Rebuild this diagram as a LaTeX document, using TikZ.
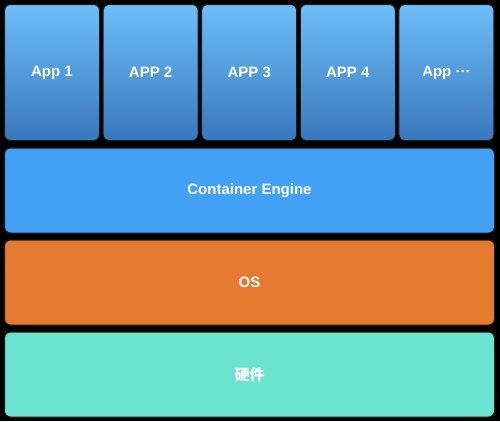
\documentclass[tikz,border=0pt]{standalone}
\usepackage{fontspec}
\setmainfont{Liberation Sans}
\newfontfamily\cjkfont{Noto Sans CJK SC}
\definecolor{apptop}{HTML}{6EBEF8}
\definecolor{appbot}{HTML}{3878BC}
\definecolor{engine}{HTML}{42A0F5}
\definecolor{osc}{HTML}{E57A30}
\definecolor{hw}{HTML}{6BE4CF}
\definecolor{edge}{HTML}{1E1E1E}
\tikzset{
  layer/.style={draw=edge, line width=1pt, rounded corners=6pt, anchor=north west,
    minimum width=490pt, minimum height=85pt, inner sep=0pt,
    text=white, font=\fontsize{15pt}{18pt}\selectfont\bfseries},
  appbox/.style={draw=edge, line width=1pt, rounded corners=6pt, anchor=north west,
    minimum width=95pt, minimum height=136pt, inner sep=0pt,
    top color=apptop, bottom color=appbot,
    text=white, font=\fontsize{15pt}{18pt}\selectfont\bfseries},
}
\begin{document}
\begin{tikzpicture}[x=1pt,y=-1pt]
\fill[black] (0,0) rectangle (500,421);
\useasboundingbox (0,0) rectangle (500,421);
\node[appbox] (a1) at (4,4) {App 1};
\node[appbox] (a2) at (102.6,4) {APP 2};
\node[appbox] (a3) at (201.2,4) {APP 3};
\node[appbox] (a4) at (299.8,4) {APP 4};
\node[appbox] (a5) at (398.4,4) {App ···};
\node[layer, fill=engine] (eng) at (4,147.5) {Container Engine};
\node[layer, fill=osc] (os) at (4,239.5) {OS};
\node[layer, fill=hw] (hwn) at (4,331.5) {\cjkfont 硬件};
\end{tikzpicture}
\end{document}
